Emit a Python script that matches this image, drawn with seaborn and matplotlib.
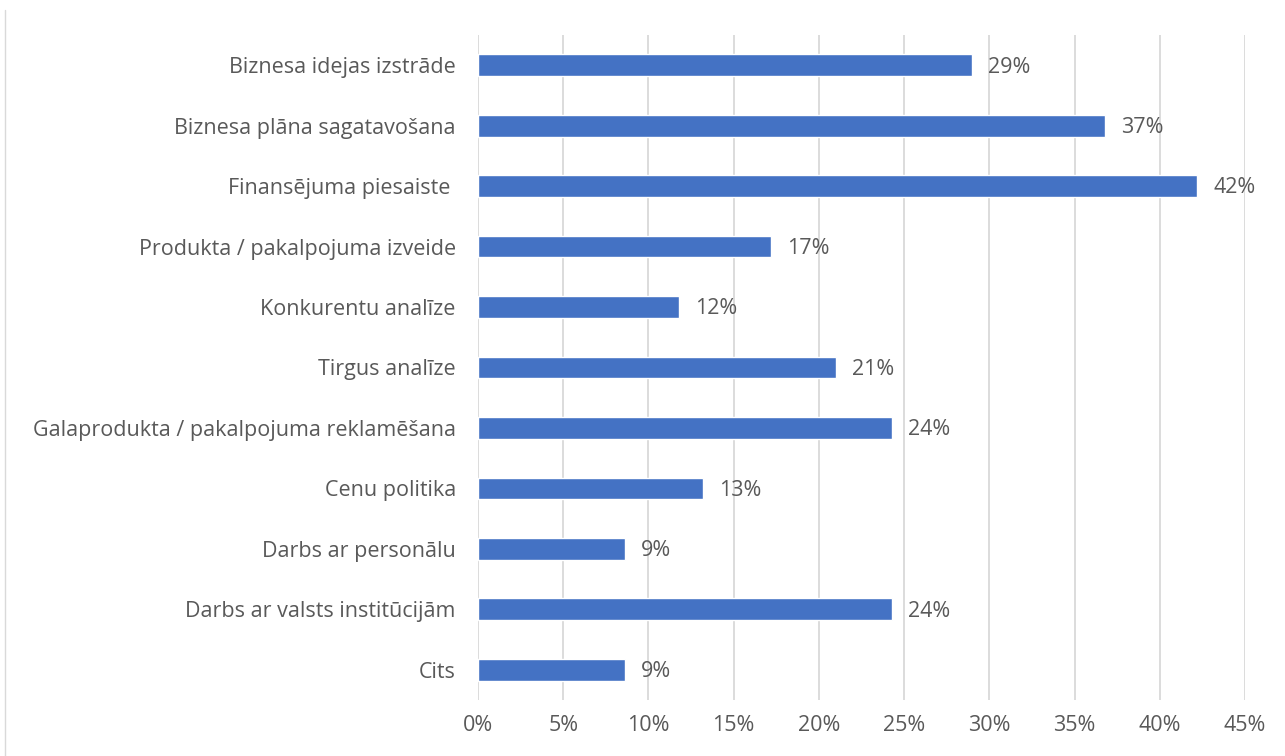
import pandas as pd
import seaborn as sns
import matplotlib.pyplot as plt
from matplotlib.lines import Line2D

# data
categories = ['Biznesa idejas izstrāde', 'Biznesa plāna sagatavošana', 'Finansējuma piesaiste ',
              'Produkta / pakalpojuma izveide', 'Konkurentu analīze', 'Tirgus analīze',
              'Galaprodukta / pakalpojuma reklamēšana', 'Cenu politika', 'Darbs ar personālu',
              'Darbs ar valsts institūcijām', 'Cits']
shares = [29.0, 36.8, 42.2, 17.2, 11.8, 21.0, 24.3, 13.2, 8.6, 24.3, 8.6]
labels = ['29%', '37%', '42%', '17%', '12%', '21%', '24%', '13%', '9%', '24%', '9%']
ticks = [0, 5, 10, 15, 20, 25, 30, 35, 40, 45]

df = pd.DataFrame({'cat': categories, 'val': shares})

sns.set_style('white')
plt.rcParams['font.family'] = ['Open Sans', 'DejaVu Sans']
txt = '#595959'
fs = 15.5

fig = plt.figure(figsize=(12.85, 7.56), dpi=100)
ax = fig.add_axes([478 / 1285, 1 - 700 / 756, (1245 - 478) / 1285, (700 - 35) / 756])

sns.barplot(data=df, x='val', y='cat', color='#4472C4', width=0.36, saturation=1, ax=ax, zorder=3)

for i, (v, lab) in enumerate(zip(shares, labels)):
    ax.text(v + 0.95, i + 0.03, lab, va='center', ha='left', fontsize=fs, color=txt)

ax.set_xlim(0, 45)
ax.set_ylim(10.5, -0.5)
ax.set_xticks(ticks)
ax.set_xticklabels([f'{t}%' for t in ticks])
ax.xaxis.grid(True, color='#D9D9D9', linewidth=1.3, zorder=0)
ax.yaxis.grid(False)
for s in ax.spines.values():
    s.set_visible(False)
ax.tick_params(axis='both', length=0, labelsize=fs, labelcolor=txt)
ax.tick_params(axis='x', pad=11)
ax.tick_params(axis='y', pad=16)
ax.set_xlabel('')
ax.set_ylabel('')

# chart border on the left
fig.add_artist(Line2D([5 / 1285, 5 / 1285], [0, 1 - 10 / 756], color='#D9D9D9', lw=1))

fig.savefig('out.png', dpi=100)
